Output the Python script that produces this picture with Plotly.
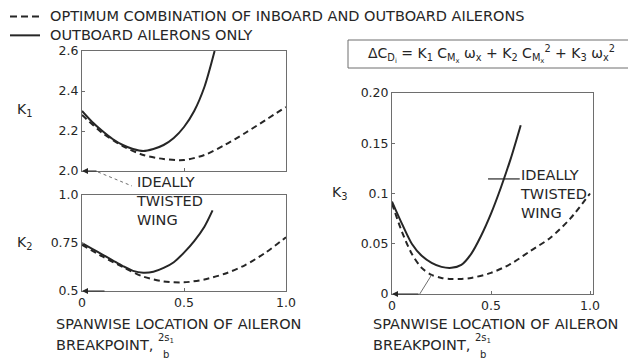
import plotly.graph_objects as go

# ---------------- data ----------------
x_k1_out = [0, 0.05, 0.1, 0.15, 0.2, 0.25, 0.3, 0.35, 0.4, 0.45, 0.5, 0.55, 0.6, 0.65]
k1_out = [2.30, 2.245, 2.20, 2.16, 2.13, 2.11, 2.10, 2.11, 2.13, 2.165, 2.22, 2.30, 2.42, 2.60]
x_k1_opt = [0, 0.1, 0.2, 0.3, 0.4, 0.5, 0.6, 0.7, 0.8, 0.9, 1.0]
k1_opt = [2.28, 2.19, 2.125, 2.08, 2.06, 2.055, 2.08, 2.13, 2.19, 2.255, 2.32]

x_k2_out = [0, 0.05, 0.1, 0.15, 0.2, 0.25, 0.3, 0.35, 0.4, 0.45, 0.5, 0.55, 0.6, 0.64]
k2_out = [0.75, 0.72, 0.69, 0.66, 0.63, 0.605, 0.595, 0.60, 0.62, 0.65, 0.70, 0.76, 0.835, 0.92]
x_k2_opt = [0, 0.1, 0.2, 0.3, 0.4, 0.5, 0.6, 0.7, 0.8, 0.9, 1.0]
k2_opt = [0.74, 0.68, 0.625, 0.575, 0.55, 0.545, 0.56, 0.59, 0.635, 0.70, 0.78]

x_k3_out = [0, 0.05, 0.1, 0.15, 0.2, 0.25, 0.3, 0.35, 0.4, 0.45, 0.5, 0.55, 0.6, 0.65]
k3_out = [0.092, 0.070, 0.050, 0.038, 0.031, 0.027, 0.026, 0.029, 0.040, 0.058, 0.080, 0.106, 0.135, 0.168]
x_k3_opt = [0, 0.05, 0.1, 0.15, 0.2, 0.25, 0.3, 0.35, 0.4, 0.5, 0.6, 0.7, 0.8, 0.9, 1.0]
k3_opt = [0.090, 0.062, 0.040, 0.026, 0.019, 0.016, 0.015, 0.015, 0.016, 0.021, 0.030, 0.043, 0.056, 0.075, 0.100]

legend_names = ["OPTIMUM COMBINATION OF INBOARD AND OUTBOARD AILERONS",
                "OUTBOARD AILERONS ONLY"]
x_ticks = [0, 0.5, 1.0]
x_ticktext = ["0", "0.5", "1.0"]
k1_ticks = [2.0, 2.2, 2.4, 2.6]
k1_ticktext = ["2.0", "2.2", "2.4", "2.6"]
k2_ticks = [0.5, 0.75, 1.0]
k2_ticktext = ["0.5", "0.75", "1.0"]
k3_ticks = [0, 0.05, 0.1, 0.15, 0.20]
k3_ticktext = ["0", "0.05", "0.1", "0.15", "0.20"]

# ---------------- style ----------------
FONT = "DejaVu Sans"
INK = "#262626"
AX = "#6e6e6e"
OFF = 8                      # default page (body) margin of the browser
W, H = 636 - OFF, 362 - OFF  # figure fills the rest of the 636x362 window
DASH = "6px,4px"


def px(x):
    """window pixel -> paper fraction"""
    return (x - OFF) / W


def py(y):
    return 1 - (y - OFF) / H


fig = go.Figure()


def add(x, y, n, dash, name):
    fig.add_trace(go.Scatter(
        x=x, y=y, xaxis="x" + ("" if n == 1 else str(n)), yaxis="y" + ("" if n == 1 else str(n)),
        mode="lines", line=dict(color=INK, width=2, dash=dash, shape="spline", smoothing=0.8),
        name=name, showlegend=False, hoverinfo="skip"))


add(x_k1_opt, k1_opt, 1, DASH, legend_names[0])
add(x_k1_out, k1_out, 1, "solid", legend_names[1])
add(x_k2_opt, k2_opt, 2, DASH, legend_names[0])
add(x_k2_out, k2_out, 2, "solid", legend_names[1])
add(x_k3_opt, k3_opt, 3, DASH, legend_names[0])
add(x_k3_out, k3_out, 3, "solid", legend_names[1])

tickfont = dict(family=FONT, size=12.5, color=INK)
common_axis = dict(showgrid=False, zeroline=False, showline=True, linecolor=AX, linewidth=1,
                   ticks="inside", ticklen=3, tickcolor=AX, tickfont=tickfont, fixedrange=True,
                   automargin=False)

fig.update_layout(
    width=W, height=H, autosize=False,
    margin=dict(l=0, r=0, t=0, b=0, pad=0, autoexpand=False),
    paper_bgcolor="white", plot_bgcolor="white",
    font=dict(family=FONT, color=INK, size=13),
    showlegend=False,
    xaxis=dict(common_axis, domain=[px(82), px(286)], range=[0, 1], anchor="y", mirror=True,
               tickvals=[0.5], showticklabels=False),
    yaxis=dict(common_axis, domain=[py(171), py(51)], range=[2.0, 2.6], anchor="x", mirror=True,
               tickvals=k1_ticks, ticktext=k1_ticktext),
    xaxis2=dict(common_axis, domain=[px(82), px(286)], range=[0, 1], anchor="y2", mirror=True,
                tickvals=x_ticks, ticktext=x_ticktext),
    yaxis2=dict(common_axis, domain=[py(291), py(195)], range=[0.5, 1.0], anchor="x2", mirror=True,
                tickvals=k2_ticks, ticktext=k2_ticktext),
    xaxis3=dict(common_axis, domain=[px(392), px(593)], range=[0, 1.015], anchor="y3", mirror=True,
                tickvals=x_ticks, ticktext=x_ticktext),
    yaxis3=dict(common_axis, domain=[py(294), py(93)], range=[0, 0.20], anchor="x3", mirror=True,
                tickvals=k3_ticks, ticktext=k3_ticktext),
)

anns = []


def text(x, y, s, size=13, xanchor="left", yanchor="middle", align="left"):
    anns.append(dict(x=px(x), y=py(y), xref="paper", yref="paper", text=s, showarrow=False,
                     xanchor=xanchor, yanchor=yanchor, align=align, borderpad=0,
                     font=dict(family=FONT, size=size, color=INK)))


# legend (drawn by hand: one two-line text block beside two line samples)
LEG_FS = 14.5
LEG_Y1 = 16.5
LEG_Y2 = LEG_Y1 + 1.3 * LEG_FS
text(49, (LEG_Y1 + LEG_Y2) / 2, "<br>".join(legend_names), LEG_FS)

# axis letters
text(16, 110, "K<sub>1</sub>", 14)
text(16, 243, "K<sub>2</sub>", 14)
text(331, 193, "K<sub>3</sub>", 14)

# ideally twisted wing notes
text(135, 201, "IDEALLY<br>TWISTED<br>WING", 14.5)
text(519, 194, "IDEALLY<br>TWISTED<br>WING", 14.5)

# x-axis titles
for x0, fx in ((55, 157), (372, 474)):
    text(x0, 324, "SPANWISE LOCATION OF AILERON", 14.5)
    text(x0, 345, "BREAKPOINT,", 14.5)
    text(fx, 338, "2s<sub>1</sub>", 10)
    text(fx + 5, 354, "b", 10)

# equation
text(491, 54, "ΔC<sub>D<sub>i</sub></sub> = K<sub>1</sub> C<sub>M<sub>x</sub></sub> ω<sub>x</sub> + "
              "K<sub>2</sub> C<sub>M<sub>x</sub></sub><sup>2</sup> + K<sub>3</sub> ω<sub>x</sub><sup>2</sup>",
     14, xanchor="center")

# arrows to the ideally-twisted-wing values
anns.append(dict(x=0, y=2.0, xref="x", yref="y", ax=16, ay=0, text="", showarrow=True,
                 arrowhead=2, arrowsize=1, arrowwidth=1.2, arrowcolor=INK))
anns.append(dict(x=0, y=0.5, xref="x2", yref="y2", ax=24, ay=0, text="", showarrow=True,
                 arrowhead=2, arrowsize=1, arrowwidth=1.2, arrowcolor=INK))
anns.append(dict(x=0, y=0, xref="x3", yref="y3", ax=28, ay=0, text="", showarrow=True,
                 arrowhead=2, arrowsize=1, arrowwidth=1.2, arrowcolor=INK))
fig.update_layout(annotations=anns)

shapes = [
    # legend samples
    dict(type="line", xref="paper", yref="paper", x0=px(10), x1=px(40), y0=py(LEG_Y1), y1=py(LEG_Y1),
         line=dict(color=INK, width=2, dash="7px,4px")),
    dict(type="line", xref="paper", yref="paper", x0=px(10), x1=px(40), y0=py(LEG_Y2), y1=py(LEG_Y2),
         line=dict(color=INK, width=2)),
    # equation box
    dict(type="rect", xref="paper", yref="paper", x0=px(348), x1=px(634), y0=py(68), y1=py(40),
         line=dict(color=AX, width=1)),
    # leader lines
    dict(type="line", xref="paper", yref="paper", x0=px(98), y0=py(172), x1=px(132), y1=py(186),
         line=dict(color=AX, width=1, dash="dot")),
    dict(type="line", xref="x3", yref="y3", x0=0.14, y0=0.0, x1=0.20, y1=0.019,
         line=dict(color=AX, width=1)),
    dict(type="line", xref="x3", yref="y3", x0=0.485, y0=0.1145, x1=0.645, y1=0.1145,
         line=dict(color=INK, width=1.2)),
]
fig.update_layout(shapes=shapes)

fig.write_html("out.html")
